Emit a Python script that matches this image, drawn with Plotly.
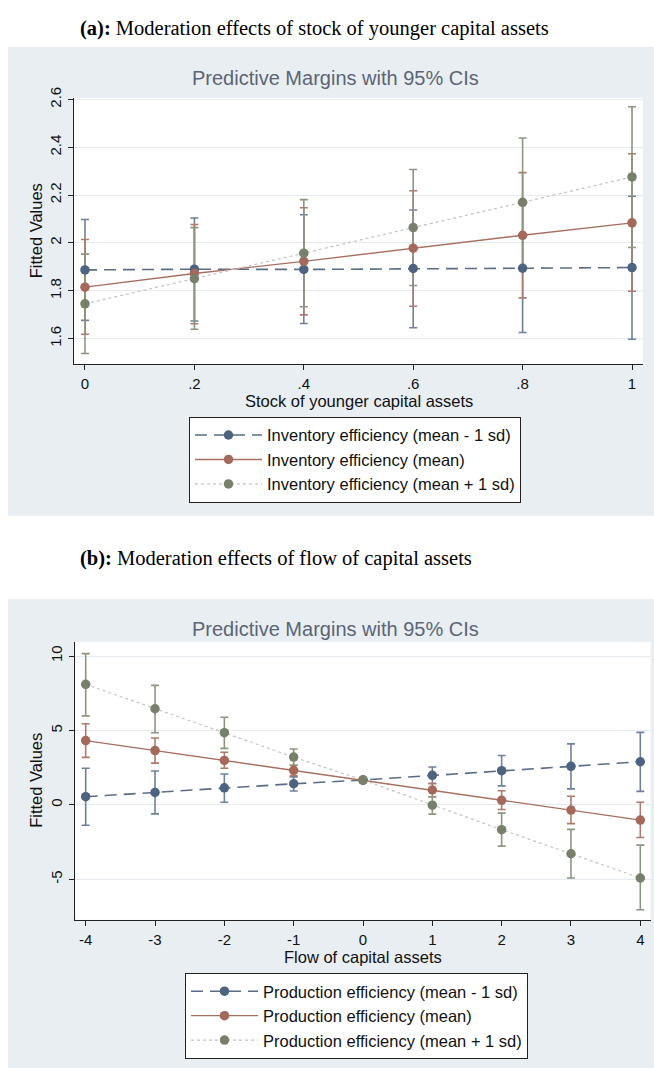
import plotly.graph_objects as go

W, H = 654, 1068

# ---------------- Data: panel (a) ----------------
a_x = [0, 0.2, 0.4, 0.6, 0.8, 1.0]
a_xtick_vals = [0, 0.2, 0.4, 0.6, 0.8, 1.0]
a_xtick_text = ["0", ".2", ".4", ".6", ".8", "1"]
a_ytick_vals = [1.6, 1.8, 2.0, 2.2, 2.4, 2.6]
a_ytick_text = ["1.6", "1.8", "2", "2.2", "2.4", "2.6"]

a_low_y = [1.887, 1.890, 1.889, 1.893, 1.894, 1.897]
a_low_lo = [1.676, 1.673, 1.663, 1.645, 1.625, 1.597]
a_low_hi = [2.098, 2.104, 2.118, 2.138, 2.163, 2.195]

a_mean_y = [1.815, 1.872, 1.923, 1.978, 2.032, 2.084]
a_mean_lo = [1.618, 1.662, 1.699, 1.735, 1.770, 1.798]
a_mean_hi = [2.014, 2.077, 2.147, 2.218, 2.294, 2.373]

a_high_y = [1.745, 1.850, 1.957, 2.064, 2.170, 2.276]
a_high_lo = [1.537, 1.639, 1.733, 1.822, 1.901, 1.981]
a_high_hi = [1.953, 2.064, 2.181, 2.307, 2.439, 2.570]

a_names = ["Inventory efficiency (mean - 1 sd)",
           "Inventory efficiency (mean)",
           "Inventory efficiency (mean + 1 sd)"]

# ---------------- Data: panel (b) ----------------
b_x = [-4, -3, -2, -1, 0, 1, 2, 3, 4]
b_xtick_vals = [-4, -3, -2, -1, 0, 1, 2, 3, 4]
b_xtick_text = ["-4", "-3", "-2", "-1", "0", "1", "2", "3", "4"]
b_ytick_vals = [-5, 0, 5, 10]
b_ytick_text = ["-5", "0", "5", "10"]

b_low_y = [0.55, 0.84, 1.15, 1.42, 1.67, 1.99, 2.30, 2.59, 2.90]
b_low_lo = [-1.37, -0.60, 0.18, 0.93, 1.67, 1.44, 1.28, 1.08, 0.91]
b_low_hi = [2.46, 2.28, 2.08, 1.88, 1.67, 2.55, 3.32, 4.10, 4.87]

b_mean_y = [4.32, 3.65, 2.99, 2.32, 1.67, 1.00, 0.31, -0.35, -1.02]
b_mean_lo = [3.19, 2.81, 2.46, 1.97, 1.67, 0.55, -0.31, -1.26, -2.19]
b_mean_hi = [5.45, 4.49, 3.54, 2.66, 1.67, 1.44, 0.95, 0.58, 0.18]

b_high_y = [8.10, 6.46, 4.85, 3.21, 1.67, -0.02, -1.66, -3.28, -4.91]
b_high_lo = [5.98, 4.85, 3.80, 2.66, 1.67, -0.62, -2.77, -4.91, -7.04]
b_high_hi = [10.16, 8.03, 5.89, 3.76, 1.67, 0.55, -0.55, -1.64, -2.70]

b_names = ["Production efficiency (mean - 1 sd)",
           "Production efficiency (mean)",
           "Production efficiency (mean + 1 sd)"]

# ---------------- Styles ----------------
marker_cols = ["#4E6380", "#A5695B", "#76806A"]
ci_cols = ["#6F8099", "#AE7A6D", "#8C967F"]
line_cols = ["#5A6C86", "#A86F61", "#C2C2C2"]
line_dash = ["12px,7px", "solid", "dot"]
line_w = [1.6, 1.4, 1.2]

FONT = "Liberation Sans, Arial, sans-serif"
SERIF = "Liberation Serif, Times New Roman, serif"

fig = go.Figure()


def px_x(p):
    return p / W


def px_y(p):
    return 1 - p / H


def add_panel(xs, series, names, xa, ya, legend):
    # CI caps first
    for i, (y, lo, hi) in enumerate(series):
        fig.add_trace(go.Scatter(
            x=xs, y=y, mode="markers", xaxis=xa, yaxis=ya,
            marker=dict(size=1, opacity=0), showlegend=False, hoverinfo="skip",
            error_y=dict(type="data", symmetric=False,
                         array=[h - v for h, v in zip(hi, y)],
                         arrayminus=[v - l for v, l in zip(y, lo)],
                         color=ci_cols[i], thickness=1.6, width=4),
        ))
    for i, (y, lo, hi) in enumerate(series):
        fig.add_trace(go.Scatter(
            x=xs, y=y, mode="lines+markers", name=names[i], xaxis=xa, yaxis=ya,
            legend=legend,
            line=dict(color=line_cols[i], dash=line_dash[i], width=line_w[i]),
            marker=dict(color=marker_cols[i], size=9.5),
        ))


add_panel(a_x, [(a_low_y, a_low_lo, a_low_hi),
                (a_mean_y, a_mean_lo, a_mean_hi),
                (a_high_y, a_high_lo, a_high_hi)], a_names, "x", "y", "legend")
add_panel(b_x, [(b_low_y, b_low_lo, b_low_hi),
                (b_mean_y, b_mean_lo, b_mean_hi),
                (b_high_y, b_high_lo, b_high_hi)], b_names, "x2", "y2", "legend2")

# Panel geometry (pixels)
A = dict(l=74, r=643, t=88, b=357)
B = dict(l=75.3, r=650.7, t=637.3, b=918.3)

axis_common = dict(showline=True, linecolor="#222222", linewidth=1,
                   ticks="outside", ticklen=5, tickcolor="#222222", tickwidth=1,
                   tickfont=dict(family=FONT, size=15, color="#111111"),
                   zeroline=False, tickmode="array")

fig.update_layout(
    width=W, height=H,
    margin=dict(l=0, r=0, t=0, b=0),
    paper_bgcolor="white", plot_bgcolor="white",
    showlegend=True,
    xaxis=dict(domain=[px_x(A["l"]), px_x(A["r"])], range=[-0.0201, 1.0201],
               tickvals=a_xtick_vals, ticktext=a_xtick_text, showgrid=False,
               ticklabelstandoff=1, anchor="y", **axis_common),
    yaxis=dict(domain=[px_y(A["b"]), px_y(A["t"])], range=[1.492, 2.606],
               tickvals=a_ytick_vals, ticktext=a_ytick_text, showgrid=True,
               gridcolor="#E3EAF0", gridwidth=1, tickangle=-90,
               ticklabelstandoff=1, anchor="x", **axis_common),
    xaxis2=dict(domain=[px_x(B["l"]), px_x(B["r"])], range=[-4.15, 4.15],
                tickvals=b_xtick_vals, ticktext=b_xtick_text, showgrid=False,
                ticklabelstandoff=1, anchor="y2", **axis_common),
    yaxis2=dict(domain=[px_y(B["b"]), px_y(B["t"])], range=[-7.72, 10.96],
                tickvals=b_ytick_vals, ticktext=b_ytick_text, showgrid=True,
                gridcolor="#E3EAF0", gridwidth=1, tickangle=-90,
                ticklabelstandoff=1, anchor="x2", **axis_common),
    legend=dict(x=px_x(189), y=px_y(410), xanchor="left", yanchor="top",
                bgcolor="white", bordercolor="#222222", borderwidth=1,
                font=dict(family=FONT, size=16.5, color="#111111"),
                itemwidth=67, tracegroupgap=0),
    legend2=dict(x=px_x(185), y=px_y(972), xanchor="left", yanchor="top",
                 bgcolor="white", bordercolor="#222222", borderwidth=1,
                 font=dict(family=FONT, size=16.5, color="#111111"),
                 itemwidth=67, tracegroupgap=0),
)

shapes = [
    dict(type="rect", xref="paper", yref="paper", x0=px_x(8), x1=1,
         y0=px_y(510), y1=px_y(36), fillcolor="#E9EEF2", line=dict(width=0), layer="below"),
    dict(type="rect", xref="paper", yref="paper", x0=px_x(8), x1=1,
         y0=0, y1=px_y(594), fillcolor="#E9EEF2", line=dict(width=0), layer="below"),
    dict(type="rect", xref="x domain", yref="y domain", x0=0, x1=1, y0=0, y1=1,
         fillcolor="white", line=dict(width=0), layer="below"),
    dict(type="rect", xref="x2 domain", yref="y2 domain", x0=0, x1=1, y0=0, y1=1,
         fillcolor="white", line=dict(width=0), layer="below"),
]
fig.update_layout(shapes=shapes)

title_col = "#5B6575"
annotations = [
    dict(text="<b>(a):</b> Moderation effects of stock of younger capital assets",
         x=px_x(78), y=px_y(18), xanchor="left", yanchor="middle",
         font=dict(family=SERIF, size=20.5, color="black")),
    dict(text="<b>(b):</b> Moderation effects of flow of capital assets",
         x=px_x(78), y=px_y(553), xanchor="left", yanchor="middle",
         font=dict(family=SERIF, size=20.5, color="black")),
    dict(text="Predictive Margins with 95% CIs", x=px_x(335), y=px_y(68),
         xanchor="center", yanchor="middle",
         font=dict(family=FONT, size=20, color=title_col)),
    dict(text="Predictive Margins with 95% CIs", x=px_x(335), y=px_y(624),
         xanchor="center", yanchor="middle",
         font=dict(family=FONT, size=20, color=title_col)),
    dict(text="Stock of younger capital assets", x=px_x((A["l"] + A["r"]) / 2), y=px_y(394),
         xanchor="center", yanchor="middle",
         font=dict(family=FONT, size=16.5, color="#111111")),
    dict(text="Flow of capital assets", x=px_x((B["l"] + B["r"]) / 2), y=px_y(956),
         xanchor="center", yanchor="middle",
         font=dict(family=FONT, size=16.5, color="#111111")),
    dict(text="Fitted Values", x=px_x(36), y=px_y((A["t"] + A["b"]) / 2),
         xanchor="center", yanchor="middle", textangle=-90,
         font=dict(family=FONT, size=16.5, color="#111111")),
    dict(text="Fitted Values", x=px_x(36), y=px_y((B["t"] + B["b"]) / 2),
         xanchor="center", yanchor="middle", textangle=-90,
         font=dict(family=FONT, size=16.5, color="#111111")),
]
for a in annotations:
    a.update(xref="paper", yref="paper", showarrow=False)
fig.update_layout(annotations=annotations)

post_js = (
    "document.documentElement.style.margin='0';"
    "document.body.style.margin='0';"
    "document.body.style.overflow='hidden';"
    "var d=document.getElementById('{plot_id}');"
    "d.style.position='absolute';d.style.top='0px';d.style.left='0px';"
)

fig.write_html("out.html", post_script=post_js, config={"displayModeBar": False})
